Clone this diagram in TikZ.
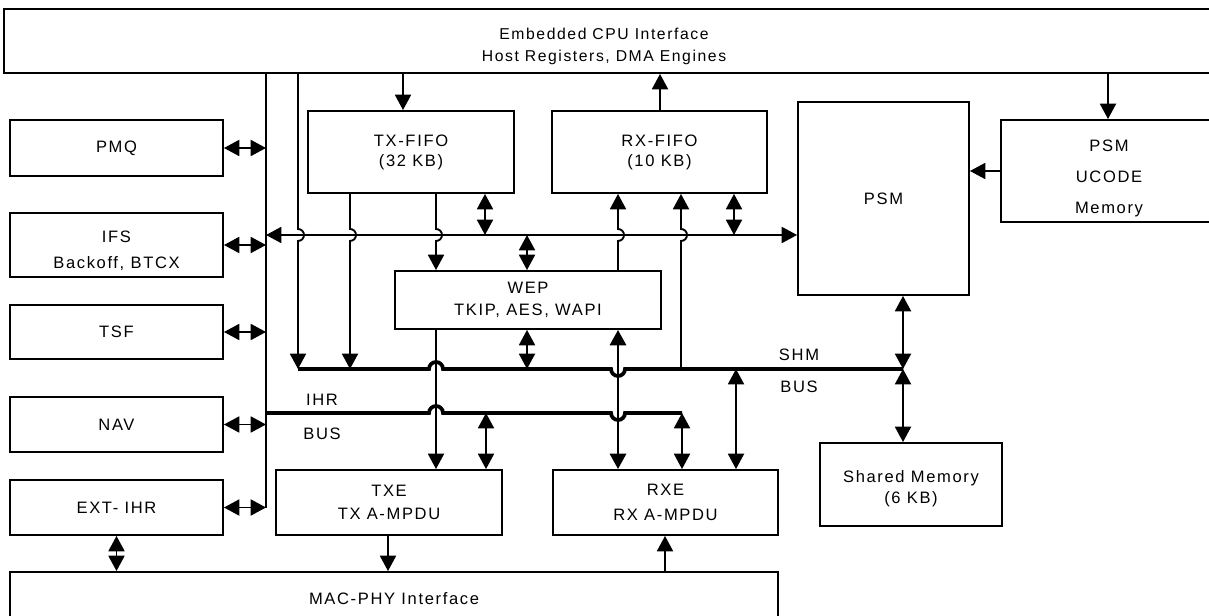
\documentclass[tikz,border=0pt]{standalone}
\usepackage{fontspec}
\setmainfont{Liberation Sans}[LetterSpace=10]
\usetikzlibrary{arrows.meta}

\begin{document}
\begin{tikzpicture}[x=0.75pt,y=-0.75pt,
  line width=1.4pt,
  >={Triangle[width=12pt,length=11.5pt]},
  blk/.style={draw, line width=1.4pt, inner sep=0pt, align=center,
    font=\fontsize{12.4}{15}\selectfont},
  area/.style n args={4}{at={({(#1+#3)/2},{(#2+#4)/2})},
    minimum width={(#3-#1)*0.75pt}, minimum height={(#4-#2)*0.75pt}},
  bus/.style={line width=2.8pt},
  thk/.style={line width=2.2pt},
  lbl/.style={font=\fontsize{12.4}{15}\selectfont, inner sep=0pt, align=center},
]
\useasboundingbox (0,0) rectangle (1209,616);
\clip (0,0) rectangle (1209,616);

% blocks
\node[blk, area={4}{9}{1220}{73}] (cpu) {};
\node[lbl, font=\fontsize{11.8}{14}\selectfont] (cpul) at (604,46)
  {Embedded CPU Interface\\[2.5pt]Host Registers, DMA Engines};
\node[blk, area={10}{120}{223}{176}] (pmq) {PMQ};
\node[blk, area={10}{213}{223}{277}] (ifs) {\rule{0pt}{17pt}IFS\\[4.25pt]Backoff, BTCX};
\node[blk, area={10}{305}{223}{359}] (tsf) {TSF};
\node[blk, area={10}{397}{223}{452}] (nav) {NAV};
\node[blk, area={10}{480}{223}{535}] (ext) {EXT- IHR};
\node[blk, area={308}{111}{514}{193}] (txf) {TX-FIFO\\(32 KB)};
\node[blk, area={552}{111}{767}{193}] (rxf) {RX-FIFO\\(10 KB)};
\node[blk, area={798}{102}{969}{295}] (psm) {PSM};
\node[blk, area={1001}{120}{1217}{222}] (ucd) {\rule{0pt}{20pt}PSM\\[8pt]UCODE\\[8pt]Memory};
\node[blk, area={395}{271}{661}{329}] (wep) {WEP\\[1.25pt]TKIP, AES, WAPI};
\node[blk, area={820}{443}{1002}{526}] (sm) {\rule{0pt}{15.5pt}Shared Memory\\[1pt](6 KB)};
\node[blk, area={276}{470}{502}{535}] (txe) {TXE\\[2pt]TX A-MPDU};
\node[blk, area={553}{470}{778}{535}] (rxe) {RXE\\[4pt]RX A-MPDU};
\node[blk, area={10}{572}{778}{640}] (mac) {};
\node[lbl] (macl) at (394,599) {MAC-PHY Interface};

% bus labels
\node[lbl] (shml1) at (799,355) {SHM};
\node[lbl] (shml2) at (799,387) {BUS};
\node[lbl] (ihrl1) at (322,400) {IHR};
\node[lbl] (ihrl2) at (322,434) {BUS};

% column positions
\foreach \c in {117,266,298,350,388,403,436,485,486,527,618,660,665,681,734,736,903,1108}
  \coordinate (c\c) at (\c,0);
% bus end points
\coordinate (midL) at (266,235);
\coordinate (shmL) at (298,369);
\coordinate (shmR) at (903,369);
\coordinate (ihrL) at (266,413);
\coordinate (ihrR) at (682,413);

% host bus trunk and side blocks
\draw (cpu.south -| c266) -- (ext.east -| c266);
\foreach \n in {pmq,ifs,tsf,nav,ext}
  \draw[<->] (\n.east) -- (\n.east -| c266);

% control line to PSM
\draw[<->] (midL) -- (psm.west |- midL);

% verticals hopping over the control line
\draw[->] (cpu.south -| c298) -- ([yshift=4.5pt]midL -| c298)
  arc[start angle=90,end angle=-90,radius=4.5pt] -- (shmL);
\draw[->] (txf.south -| c350) -- ([yshift=4.5pt]midL -| c350)
  arc[start angle=90,end angle=-90,radius=4.5pt] -- (shmL -| c350);
\draw[->] (txf.south -| c436) -- ([yshift=4.5pt]midL -| c436)
  arc[start angle=90,end angle=-90,radius=4.5pt] -- (wep.north -| c436);
\draw[->] (wep.north -| c618) -- ([yshift=-4.5pt]midL -| c618)
  arc[start angle=-90,end angle=90,radius=4.5pt] -- (rxf.south -| c618);
\draw[->] (shmL -| c681) -- ([yshift=-4.5pt]midL -| c681)
  arc[start angle=-90,end angle=90,radius=4.5pt] -- (rxf.south -| c681);

\draw[<->] (txf.south -| c485) -- (midL -| c485);
\draw[<->] (midL -| c527) -- (wep.north -| c527);
\draw[<->] (rxf.south -| c734) -- (midL -| c734);

% host interface links
\draw[->] (cpu.south -| c403) -- (txf.north -| c403);
\draw[->] (rxf.north -| c660) -- (cpu.south -| c660);
\draw[->] (cpu.south -| c1108) -- (ucd.north -| c1108);
\draw[->] (ucd.west) -- (ucd.west -| psm.east);

% WEP links
\draw[<->] (wep.south -| c527) -- (shmL -| c527);
\draw[->] (wep.south -| c436) -- (txe.north -| c436);
\draw[<->, thk] (rxe.north -| c618) -- (wep.south -| c618);

% SHM and IHR buses
\draw[bus] (shmL) -- ([xshift=-5.25pt]shmL -| c436)
  arc[start angle=180,end angle=0,radius=5.25pt]
  -- ([xshift=-5.25pt]shmL -| c618)
  arc[start angle=180,end angle=360,radius=5.25pt] -- (shmR);
\draw[bus] (ihrL) -- ([xshift=-5.25pt]ihrL -| c436)
  arc[start angle=180,end angle=0,radius=5.25pt]
  -- ([xshift=-5.25pt]ihrL -| c618)
  arc[start angle=180,end angle=360,radius=5.25pt] -- (ihrR);

\draw[<->] (shmL -| c736) -- (rxe.north -| c736);
\draw[<->] (psm.south -| c903) -- (shmR);
\draw[<->] (shmR) -- (sm.north -| c903);
\draw[<->] (ihrL -| c486) -- (txe.north -| c486);
\draw[<->] (ihrR) -- (rxe.north -| ihrR);

% PHY side
\draw[->] (txe.south -| c388) -- (mac.north -| c388);
\draw[->] (mac.north -| c665) -- (rxe.south -| c665);
\draw[<->] (ext.south) -- (mac.north -| ext.south);
\end{tikzpicture}
\end{document}
